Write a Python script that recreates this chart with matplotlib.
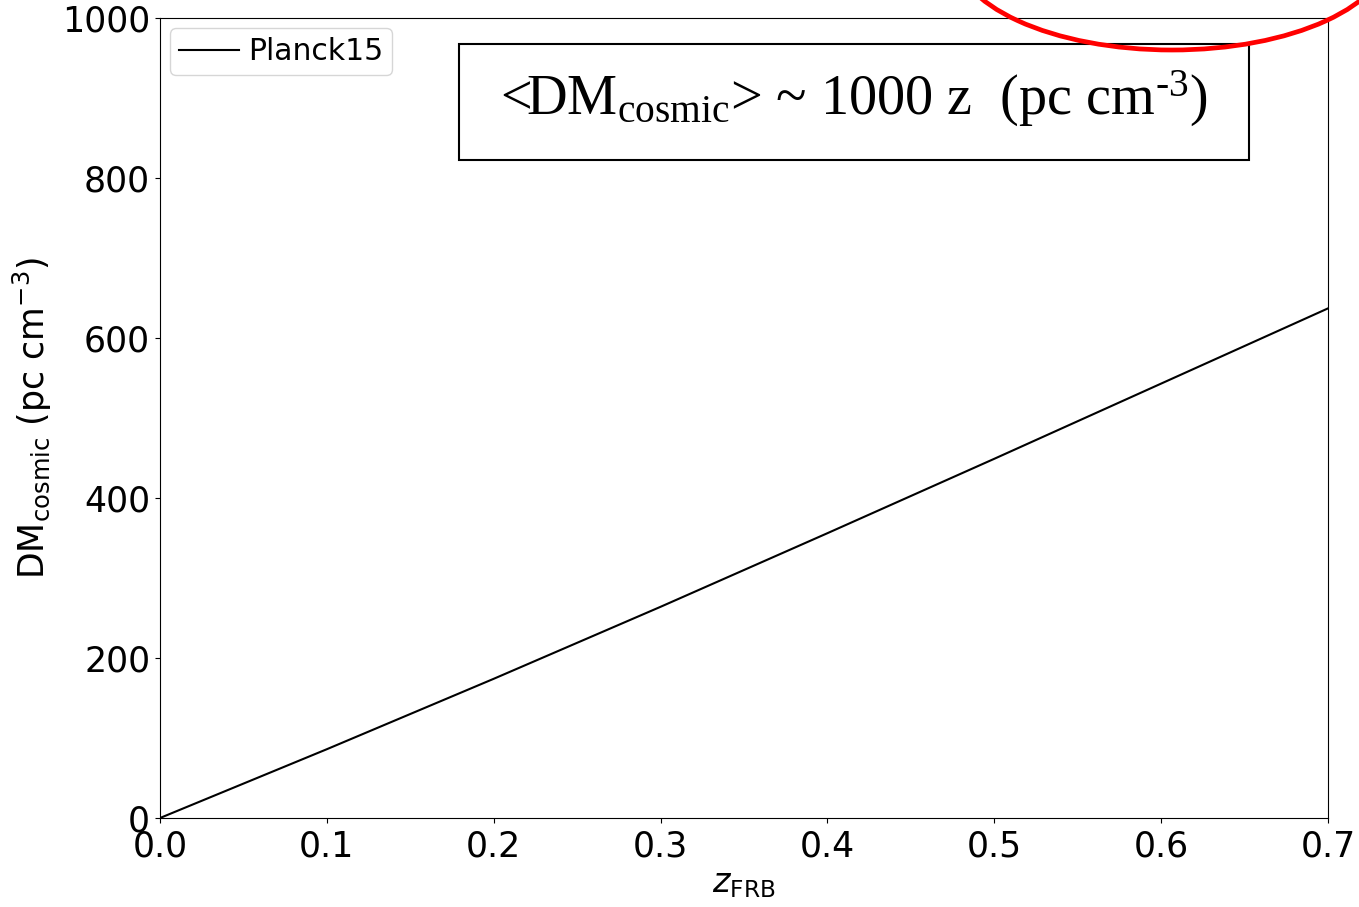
import matplotlib
matplotlib.use("Agg")
import matplotlib.pyplot as plt
from matplotlib.patches import Ellipse, Rectangle

z_frb = [0.0, 0.1, 0.2, 0.3, 0.4, 0.5, 0.6, 0.7]
dm_cosmic = [0, 86, 174, 264, 356, 449, 543, 637]

x_ticks = [0.0, 0.1, 0.2, 0.3, 0.4, 0.5, 0.6, 0.7]
y_ticks = [0, 200, 400, 600, 800, 1000]

# serif math font for the boxed note only
plt.rcParams["mathtext.rm"] = "Liberation Serif"
plt.rcParams["mathtext.it"] = "Liberation Serif:italic"
plt.rcParams["mathtext.bf"] = "Liberation Serif:bold"

fig = plt.figure(figsize=(13.59, 9.07), dpi=100)
ax = fig.add_axes([0.1177, 0.0981, 0.8595, 0.8821])

ax.plot(z_frb, dm_cosmic, color="black", lw=1.5, label="Planck15")

ax.set_xlim(0, 0.7)
ax.set_ylim(0, 1000)
ax.set_xticks(x_ticks)
ax.set_yticks(y_ticks)
ax.tick_params(labelsize=25)
ax.tick_params(axis="x", pad=5)

ax.set_xlabel(r"$z_{\rm FRB}$", fontsize=24, labelpad=2)
ax.set_ylabel(r"DM$_{\rm cosmic}$ (pc cm$^{-3}$)", fontsize=25, labelpad=6)

ax.legend(loc="upper left", fontsize=21.5, handlelength=2.0,
          borderpad=0.3, handletextpad=0.3, borderaxespad=0.35)

# boxed note on the approximate scaling
box = Rectangle((459 / 1359, 1 - 160 / 907), 790 / 1359, 116 / 907,
                transform=fig.transFigure, fill=False,
                edgecolor="black", lw=1.5, zorder=5)
fig.patches.append(box)
fig.text(854 / 1359, 1 - 115 / 907,
         r"<DM$_{\rm cosmic}$> ~ 1000 z  (pc cm$^{\text{-3}}$)",
         family="Liberation Serif", math_fontfamily="custom",
         fontsize=40.5, ha="center", va="baseline", zorder=6)

# red ring highlighting the top right corner
ring = Ellipse((1172 / 1359, 1 + 50 / 907), 436 / 1359, 200 / 907,
               transform=fig.transFigure, fill=False,
               edgecolor="red", lw=3.4, zorder=10)
fig.patches.append(ring)

fig.savefig("out.png", dpi=100)
